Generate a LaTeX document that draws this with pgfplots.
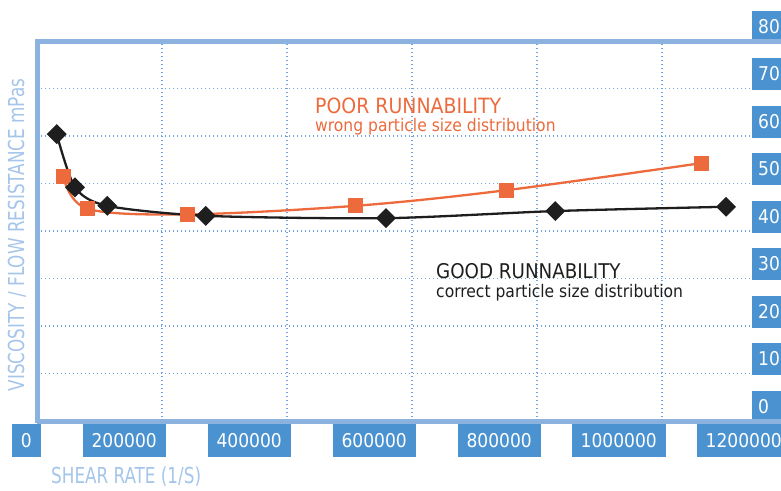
\documentclass[border=0pt]{standalone}
\usepackage{pgfplots}
\pgfplotsset{compat=1.18}
\usepackage{fontspec}
\setmainfont{DejaVu Sans Condensed}
\newfontfamily\lightfont{DejaVu Sans Condensed}[FakeStretch=0.85]
\definecolor{orng}{HTML}{EC6A3C}
\definecolor{blk}{HTML}{1E1E1E}
\definecolor{boxc}{HTML}{4A92D0}
\definecolor{axc}{HTML}{8CB2E0}
\definecolor{labc}{HTML}{A5C5EA}
\definecolor{gridc}{HTML}{6FA3E3}
\begin{document}
\begin{tikzpicture}[x=1pt,y=1pt]
\useasboundingbox (0,0) rectangle (781,490);
\clip (0,0) rectangle (781,490);
\begin{axis}[
  at={(37pt,69pt)}, anchor=south west, scale only axis,
  width=750pt, height=380pt,
  xmin=0, xmax=1200000, ymin=0, ymax=80,
  xtick={0,200000,400000,600000,800000,1000000,1200000},
  ytick={0,10,...,80},
  scaled x ticks=false,
  clip=false,
  axis line style={draw=none},
  major tick length=0pt,
  grid=major,
  grid style={gridc, line width=1.4pt, dash pattern=on 1.4pt off 2.6pt},
  yticklabel pos=right,
  /pgf/number format/assume math mode=true,
  xticklabel style={/pgf/number format/fixed, /pgf/number format/1000 sep={},
    fill=boxc, text=white, anchor=north east, xshift=4pt, yshift=-3pt,
    minimum height=33pt, inner xsep=9pt, inner ysep=0pt,
    text height=13pt, text depth=0pt,
    font=\fontsize{19}{19}\selectfont},
  yticklabel style={fill=boxc, text=white, anchor=south west, xshift=-35pt, yshift=-2pt,
    minimum height=32pt, text width=30pt, align=left, inner xsep=6pt, inner ysep=0pt,
    text height=13pt, text depth=0pt,
    font=\fontsize{19}{19}\selectfont},
  before end axis/.code={
    \draw[axc, line width=5pt] (rel axis cs:0,0) -- (rel axis cs:1,0);
    \draw[axc, line width=5pt] (rel axis cs:0,1) -- (rel axis cs:1,1);
    \draw[axc, line width=5pt] (rel axis cs:0,-0.006) -- (rel axis cs:0,1.006);
  },
]
\addplot[orng, line width=2.3pt, smooth, tension=0.55, mark=square*, mark size=6.4pt,
  mark options={solid, fill=orng, draw=none}]
  coordinates {(42100,51.5) (80500,44.7) (240500,43.5) (509300,45.3) (751500,48.6) (1063500,54.3)};
\addplot[blk, line width=2.3pt, smooth, tension=0.45, mark=square*, mark size=5.9pt,
  mark options={solid, fill=blk, draw=none, rotate=45}]
  coordinates {(31500,60.4) (60800,49.2) (112500,45.3) (270000,43.2) (558400,42.7) (829300,44.2) (1102400,45.1)};
\node[anchor=base west, inner sep=0pt, text=orng, font=\fontsize{21}{21}\selectfont] at (axis cs:444800,64.8) {POOR RUNNABILITY};
\node[anchor=base west, inner sep=0pt, text=orng, font=\fontsize{17.3}{17}\selectfont] at (axis cs:444800,61.05) {wrong particle size distribution};
\node[anchor=base west, inner sep=0pt, text=blk, font=\fontsize{20.3}{21}\selectfont] at (axis cs:638400,30.1) {GOOD RUNNABILITY};
\node[anchor=base west, inner sep=0pt, text=blk, font=\fontsize{17.3}{17}\selectfont] at (axis cs:638400,26.1) {correct particle size distribution};
\end{axis}
\node[rotate=90, text=labc, inner sep=0pt, font=\lightfont\fontsize{22}{22}\selectfont] at (17,255) {VISCOSITY / FLOW RESISTANCE mPas};
\node[anchor=base west, text=labc, inner sep=0pt, font=\lightfont\fontsize{22}{22}\selectfont] at (51,7) {SHEAR RATE (1/S)};
\end{tikzpicture}
\end{document}
